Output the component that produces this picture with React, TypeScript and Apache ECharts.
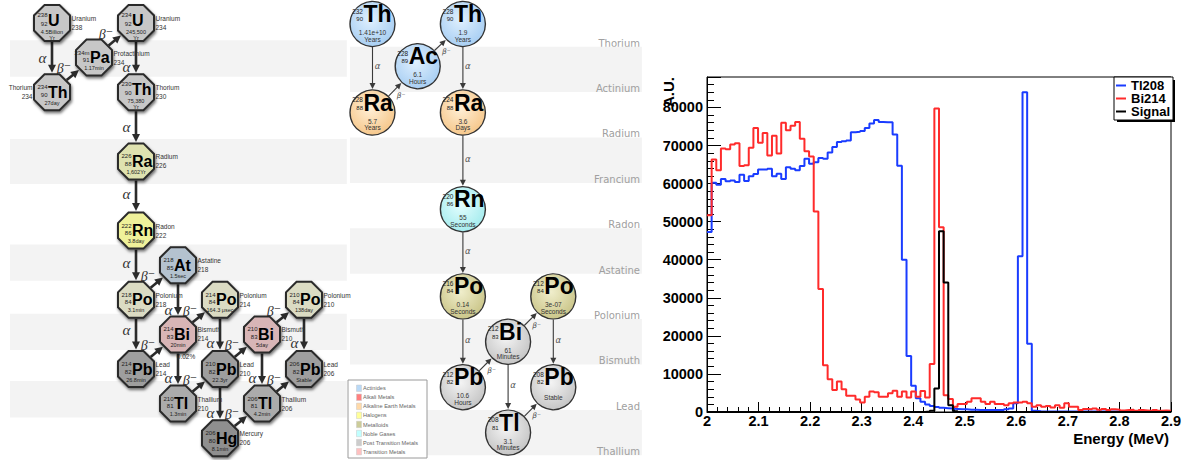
import React, { useEffect, useRef } from "react";
import * as echarts from "echarts";

// ======================= Histogram (right panel) =======================
const ENERGY_MIN = 2.0;
const ENERGY_MAX = 2.9;

const tl208Counts = [
  47300, 60200, 59700, 61200, 60600, 60800, 60400, 62300, 60700, 61900,
  62500, 63700, 63700, 63900, 61900, 62600, 61200, 64300, 63900, 63500,
  64600, 66500, 65200, 65600, 66700, 66500, 68200, 69600, 70900, 71100,
  71300, 73500, 73600, 73800, 74600, 75800, 76700, 76200, 76100, 76100,
  72900, 64700, 40000, 14700, 6900, 3600, 2700, 2000, 1600, 1300,
  1100, 1000, 900, 800, 700, 700, 600, 600, 500, 500,
  500, 500, 500, 500, 700, 900, 2300, 40900, 84000, 17900,
  300, 200, 150, 100, 100, 100, 100, 100, 100, 100,
  100, 100, 100, 100, 100, 100, 100, 100, 100, 100,
  100, 100, 100, 100, 100, 100, 100, 100, 100, 100,
];

const bi214Counts = [
  51700, 66300, 63500, 69200, 69000, 70300, 70600, 64600, 64800, 69400,
  74600, 70700, 73300, 67400, 72600, 67900, 76000, 74000, 75200, 76200,
  71800, 68500, 67100, 52700, 32300, 12300, 8600, 5800, 8000, 6000,
  4300, 4300, 3300, 2500, 4000, 5400, 5200, 4000, 4000, 4900,
  5600, 4000, 5400, 3800, 5400, 4000, 5500, 3800, 12600, 79700,
  48500, 4400, 3400, 1400, 2100, 2100, 2700, 3600, 3600, 2700,
  2100, 2700, 2100, 2100, 1800, 2300, 2500, 2500, 2700, 2300,
  1400, 1800, 1400, 1600, 1200, 1800, 1100, 2300, 1400, 1400,
  500, 800, 700, 900, 600, 800, 500, 700, 600, 400,
  500, 600, 300, 500, 400, 300, 500, 300, 400, 300,
];

const signalCounts = [
  0, 0, 0, 0, 0, 0, 0, 0, 0, 0,
  0, 0, 0, 0, 0, 0, 0, 0, 0, 0,
  0, 0, 0, 0, 0, 0, 0, 0, 0, 0,
  0, 0, 0, 0, 0, 0, 0, 0, 0, 0,
  0, 0, 0, 0, 0, 0, 0, 100, 300, 6200,
  47500, 34000, 1800, 200, 0, 0, 0, 0, 0, 0,
  0, 0, 0, 0, 0, 0, 0, 0, 0, 0,
  0, 0, 0, 0, 0, 0, 0, 0, 0, 0,
  0, 0, 0, 0, 0, 0, 0, 0, 0, 0,
  0, 0, 0, 0, 0, 0, 0, 0, 0, 0,
];

const histNames = ["Tl208", "Bi214", "Signal"];
const histColors = ["#1a3cff", "#ff2b2b", "#000000"];
const histCounts = [tl208Counts, bi214Counts, signalCounts];

// ======================= Diagram 1: U-238 series =======================
const U238_NODES = [
  { sym: "U", mass: "238", z: "92", hl: ["4.5Billion", "Yr"], name: "Uranium", col: 0, row: 0, kind: "heavy", side: "R" },
  { sym: "Pa", mass: "234m", z: "91", hl: ["1.17min"], name: "Protactinium", col: 1, row: 1, kind: "heavy", side: "R" },
  { sym: "U", mass: "234", z: "92", hl: ["245,500", "Yr"], name: "Uranium", col: 2, row: 0, kind: "heavy", side: "R" },
  { sym: "Th", mass: "234", z: "90", hl: ["27day"], name: "Thorium", col: 0, row: 2, kind: "heavy", side: "L" },
  { sym: "Th", mass: "230", z: "90", hl: ["75,380", "Yr"], name: "Thorium", col: 2, row: 2, kind: "heavy", side: "R" },
  { sym: "Ra", mass: "226", z: "88", hl: ["1,602Yr"], name: "Radium", col: 2, row: 4, kind: "ra", side: "R" },
  { sym: "Rn", mass: "222", z: "86", hl: ["3.8day"], name: "Radon", col: 2, row: 6, kind: "rn", side: "R" },
  { sym: "At", mass: "218", z: "85", hl: ["1.5sec"], name: "Astatine", col: 3, row: 7, kind: "at", side: "R" },
  { sym: "Po", mass: "218", z: "84", hl: ["3.1min"], name: "Polonium", col: 2, row: 8, kind: "po", side: "R" },
  { sym: "Po", mass: "214", z: "84", hl: ["164.3 μsec"], name: "Polonium", col: 4, row: 8, kind: "po", side: "R" },
  { sym: "Po", mass: "210", z: "84", hl: ["138day"], name: "Polonium", col: 6, row: 8, kind: "po", side: "R" },
  { sym: "Bi", mass: "214", z: "83", hl: ["20min"], name: "Bismuth", col: 3, row: 9, kind: "bi", side: "R" },
  { sym: "Bi", mass: "210", z: "83", hl: ["5day"], name: "Bismuth", col: 5, row: 9, kind: "bi", side: "R" },
  { sym: "Pb", mass: "214", z: "82", hl: ["26.8min"], name: "Lead", col: 2, row: 10, kind: "pb", side: "R" },
  { sym: "Pb", mass: "210", z: "82", hl: ["22.3yr"], name: "Lead", col: 4, row: 10, kind: "pb", side: "R" },
  { sym: "Pb", mass: "206", z: "82", hl: ["Stable"], name: "Lead", col: 6, row: 10, kind: "pb", side: "R" },
  { sym: "Tl", mass: "210", z: "81", hl: ["1.3min"], name: "Thallium", col: 3, row: 11, kind: "tl", side: "R" },
  { sym: "Tl", mass: "206", z: "81", hl: ["4.2min"], name: "Thallium", col: 5, row: 11, kind: "tl", side: "R" },
  { sym: "Hg", mass: "206", z: "80", hl: ["8.1min"], name: "Mercury", col: 4, row: 12, kind: "hg", side: "R" },
];

const U238_DECAYS = [
  { from: 0, to: 3, mode: "a", shift: 0 },
  { from: 3, to: 1, mode: "b", shift: 0 },
  { from: 1, to: 2, mode: "b", shift: 0 },
  { from: 2, to: 4, mode: "a", shift: 9 },
  { from: 4, to: 5, mode: "a", shift: 0 },
  { from: 5, to: 6, mode: "a", shift: -2 },
  { from: 6, to: 8, mode: "a", shift: -2 },
  { from: 8, to: 7, mode: "b", shift: 0 },
  { from: 8, to: 13, mode: "a", shift: -4 },
  { from: 7, to: 11, mode: "a", shift: 10 },
  { from: 13, to: 11, mode: "b", shift: 0 },
  { from: 11, to: 9, mode: "b", shift: 0 },
  { from: 11, to: 16, mode: "a", shift: 9, note: "0.02%" },
  { from: 9, to: 14, mode: "a", shift: 9 },
  { from: 16, to: 14, mode: "b", shift: 0 },
  { from: 14, to: 12, mode: "b", shift: 0 },
  { from: 14, to: 18, mode: "a", shift: 9 },
  { from: 18, to: 17, mode: "b", shift: 0 },
  { from: 12, to: 17, mode: "a", shift: 9 },
  { from: 12, to: 10, mode: "b", shift: 0 },
  { from: 17, to: 15, mode: "b", shift: 0 },
  { from: 10, to: 15, mode: "a", shift: 9 },
];

// shaded rows of diagram 1, in half-row units
const U238_BANDS = [
  [0.5, 1.55],
  [3.35, 4.65],
  [6.4, 7.45],
  [8.4, 9.45],
  [10.35, 11.4],
];
const U238_BAND_COLS = [-1.0, 7.02];

const U238_COLORS: Record<string, string> = {
  heavy: "#c7c7c7",
  ra: "#dfe2b0",
  rn: "#eff19a",
  at: "#b4c2cf",
  po: "#dbdbc3",
  bi: "#d8b5b6",
  pb: "#9e9e9e",
  tl: "#ababab",
  hg: "#8f8f8f",
};

// ======================= Diagram 2: Th-232 series =======================
const TH232_NODES = [
  { sym: "Th", mass: "232", z: "90", hl: ["1.41e+10", "Years"], col: 0, row: 0, kind: "actinide" },
  { sym: "Ac", mass: "228", z: "89", hl: ["6.1", "Hours"], col: 1, row: 0.93, kind: "actinide" },
  { sym: "Th", mass: "228", z: "90", hl: ["1.9", "Years"], col: 2, row: 0, kind: "actinide" },
  { sym: "Ra", mass: "228", z: "88", hl: ["5.7", "Years"], col: 0, row: 1.95, kind: "alkaline" },
  { sym: "Ra", mass: "224", z: "88", hl: ["3.6", "Days"], col: 2, row: 1.95, kind: "alkaline" },
  { sym: "Rn", mass: "220", z: "86", hl: ["55", "Seconds"], col: 2, row: 4.08, kind: "noble" },
  { sym: "Po", mass: "216", z: "84", hl: ["0.14", "Seconds"], col: 2, row: 6, kind: "metalloid" },
  { sym: "Po", mass: "212", z: "84", hl: ["3e-07", "Seconds"], col: 4, row: 6, kind: "metalloid" },
  { sym: "Bi", mass: "212", z: "83", hl: ["61", "Minutes"], col: 3, row: 7, kind: "post" },
  { sym: "Pb", mass: "212", z: "82", hl: ["10.6", "Hours"], col: 2, row: 8, kind: "post" },
  { sym: "Pb", mass: "208", z: "82", hl: ["Stable"], col: 4, row: 8, kind: "post" },
  { sym: "Tl", mass: "208", z: "81", hl: ["3.1", "Minutes"], col: 3, row: 9, kind: "post" },
];

const TH232_DECAYS = [
  { from: 0, to: 3, mode: "a" },
  { from: 3, to: 1, mode: "b" },
  { from: 1, to: 2, mode: "b" },
  { from: 2, to: 4, mode: "a" },
  { from: 4, to: 5, mode: "a" },
  { from: 5, to: 6, mode: "a" },
  { from: 6, to: 9, mode: "a" },
  { from: 9, to: 8, mode: "b" },
  { from: 8, to: 7, mode: "b" },
  { from: 8, to: 11, mode: "a" },
  { from: 7, to: 10, mode: "a" },
  { from: 11, to: 10, mode: "b" },
];

const TH232_ROWS = ["Thorium", "Actinium", "Radium", "Francium", "Radon", "Astatine", "Polonium", "Bismuth", "Lead", "Thallium"];
const TH232_BAND_COLS = [-0.498, 5.96];
const TH232_LABEL_COL = 5.918;

const TH232_COLORS: Record<string, [string, string]> = {
  actinide: ["#e0f0fe", "#a9cff3"],
  alkaline: ["#fff0d8", "#f6c88c"],
  noble: ["#e4fefe", "#a6ecee"],
  metalloid: ["#f0eecc", "#cbc68a"],
  post: ["#f4f4f4", "#c6c6c6"],
};

const TH232_LEGEND = [
  ["Actinides", "#b9d9f7"],
  ["Alkali Metals", "#ff7f7f"],
  ["Alkaline Earth Metals", "#ffd9a8"],
  ["Halogens", "#ffff99"],
  ["Metalloids", "#cccc99"],
  ["Noble Gases", "#c0ffff"],
  ["Post Transition Metals", "#cccccc"],
  ["Transition Metals", "#ffc0c0"],
];

// ======================= helpers =======================
const SANS = "'Liberation Sans', Arial, Helvetica, sans-serif";
const SERIF = "'Liberation Serif', 'DejaVu Serif', serif";

function txt(x: number, y: number, text: string, font: string, fill = "#222", align = "center", va = "middle") {
  return { type: "text", x, y, style: { text, font, fill, align, verticalAlign: va } };
}

function arrowParts(p1: number[], p2: number[], gap1: number, gap2: number, headLen: number, headHalf: number, color: string, lw: number) {
  const dx = p2[0] - p1[0];
  const dy = p2[1] - p1[1];
  const L = Math.hypot(dx, dy);
  const ux = dx / L;
  const uy = dy / L;
  const sx = p1[0] + ux * gap1;
  const sy = p1[1] + uy * gap1;
  const tx = p2[0] - ux * gap2;
  const ty = p2[1] - uy * gap2;
  const bx = tx - ux * headLen;
  const by = ty - uy * headLen;
  return [
    { type: "line", shape: { x1: sx, y1: sy, x2: bx + ux, y2: by + uy }, style: { stroke: color, lineWidth: lw } },
    {
      type: "polygon",
      shape: { points: [[tx, ty], [bx - uy * headHalf, by + ux * headHalf], [bx + uy * headHalf, by - ux * headHalf]] },
      style: { fill: color },
    },
  ];
}

function renderU238Band(params: any, api: any) {
  const a = api.coord([U238_BAND_COLS[0], api.value(0)]);
  const b = api.coord([U238_BAND_COLS[1], api.value(1)]);
  return { type: "rect", shape: { x: a[0], y: a[1], width: b[0] - a[0], height: b[1] - a[1] }, style: { fill: "#f3f3f3" } };
}

function renderU238Decay(params: any, api: any) {
  const d: any = U238_DECAYS[params.dataIndex];
  const p1 = api.coord([api.value(0), api.value(1)]);
  const p2 = api.coord([api.value(2), api.value(3)]);
  const children: any[] = arrowParts(p1, p2, 19, 19.5, 8, 4, "#2b2b2b", 2.6);
  const mx = (p1[0] + p2[0]) / 2;
  const my = (p1[1] + p2[1]) / 2;
  if (d.mode === "a") {
    children.push(txt(mx - 9.5, my + d.shift, "α", `italic 15px ${SERIF}`, "#333"));
  } else {
    children.push(txt(mx - 9, my - 6, "β⁻", `italic 14px ${SERIF}`, "#333"));
  }
  if (d.note) children.push(txt(mx + 8, my - 12.5, d.note, `6.5px ${SANS}`, "#333"));
  return { type: "group", children };
}

function renderU238Node(params: any, api: any) {
  const n = U238_NODES[params.dataIndex];
  const p = api.coord([api.value(0), api.value(1)]);
  const cx = p[0];
  const cy = p[1];
  const R = 19.5;
  const pts: number[][] = [];
  for (let k = 0; k < 8; k++) {
    const a = Math.PI / 8 + (k * Math.PI) / 4;
    pts.push([cx + R * Math.cos(a), cy + R * Math.sin(a)]);
  }
  const two = n.hl.length === 2;
  const children: any[] = [
    {
      type: "polygon",
      shape: { points: pts },
      style: {
        fill: U238_COLORS[n.kind],
        stroke: "#2a2a2a",
        lineWidth: 2,
        shadowBlur: 3,
        shadowColor: "rgba(0,0,0,0.55)",
        shadowOffsetX: 1,
        shadowOffsetY: 2,
      },
    },
    txt(cx - 4.5, cy + (two ? -8 : -5), n.mass, `6px ${SANS}`, "#222", "right"),
    txt(cx - 4.5, cy + (two ? 0.5 : 2.5), n.z, `6px ${SANS}`, "#222", "right"),
    txt(cx - 4, cy + (two ? -2.5 : 0), n.sym, `bold 16px ${SANS}`, "#000", "left"),
  ];
  n.hl.forEach((h, i) => {
    children.push(txt(cx, cy + (two ? 8.5 + i * 6 : 10.5), h, `5.5px ${SANS}`, "#222"));
  });
  const nx = n.side === "R" ? cx + 19.5 : cx - 19.5;
  const al = n.side === "R" ? "left" : "right";
  children.push(txt(nx, cy - 4.5, n.name, `6.5px ${SANS}`, "#333", al));
  children.push(txt(nx, cy + 4.5, n.mass.replace("m", ""), `6.5px ${SANS}`, "#333", al));
  return { type: "group", children };
}

function renderTh232Row(params: any, api: any) {
  const r = api.value(0);
  const children: any[] = [];
  if (r % 2 === 1) {
    const a = api.coord([TH232_BAND_COLS[0], r - 0.5]);
    const b = api.coord([TH232_BAND_COLS[1], r + 0.5]);
    children.push({ type: "rect", shape: { x: a[0], y: a[1], width: b[0] - a[0], height: b[1] - a[1] }, style: { fill: "#f3f3f3" } });
  }
  const l = api.coord([TH232_LABEL_COL, r + 0.42]);
  children.push(txt(l[0], l[1], TH232_ROWS[params.dataIndex], `10px 'DejaVu Sans', ${SANS}`, "#a0a0a0", "right"));
  return { type: "group", children };
}

function renderTh232Decay(params: any, api: any) {
  const d = TH232_DECAYS[params.dataIndex];
  const p1 = api.coord([api.value(0), api.value(1)]);
  const p2 = api.coord([api.value(2), api.value(3)]);
  const children: any[] = arrowParts(p1, p2, 23, 23.5, 6, 3, "#3a3a3a", 1.1);
  const mx = (p1[0] + p2[0]) / 2;
  const my = (p1[1] + p2[1]) / 2;
  if (d.mode === "a") {
    children.push(txt(mx + 5, my - 2, "α", `italic 8.5px 'DejaVu Sans', ${SANS}`, "#555"));
  } else {
    children.push(txt(mx + 6, my + 6, "β⁻", `italic 7.5px 'DejaVu Sans', ${SANS}`, "#555"));
  }
  return { type: "group", children };
}

function renderTh232Node(params: any, api: any) {
  const n = TH232_NODES[params.dataIndex];
  const p = api.coord([api.value(0), api.value(1)]);
  const cx = p[0];
  const cy = p[1];
  const cols = TH232_COLORS[n.kind];
  const fill = new echarts.graphic.RadialGradient(0.45, 0.4, 0.6, [
    { offset: 0, color: cols[0] },
    { offset: 1, color: cols[1] },
  ]);
  const children: any[] = [
    { type: "circle", shape: { cx, cy, r: 22.5 }, style: { fill, stroke: "#333", lineWidth: 1.4 } },
    txt(cx - 9.5, cy - 13, n.mass, `6.5px ${SANS}`, "#222", "right"),
    txt(cx - 9.5, cy - 5, n.z, `6px ${SANS}`, "#222", "right"),
    txt(cx - 9, cy - 10, n.sym, `bold 23px ${SANS}`, "#000", "left"),
  ];
  const two = n.hl.length === 2;
  n.hl.forEach((h, i) => {
    children.push(txt(cx, cy + (two ? 8.5 + i * 6.5 : 10), h, `6.5px ${SANS}`, "#333"));
  });
  return { type: "group", children };
}

function stepPoints(counts: number[]) {
  const w = (ENERGY_MAX - ENERGY_MIN) / counts.length;
  const pts: number[][] = [];
  counts.forEach((c, i) => {
    pts.push([ENERGY_MIN + i * w, c]);
    pts.push([ENERGY_MIN + (i + 1) * w, c]);
  });
  return pts;
}

function buildOption() {
  const histSeries = histNames.map((name, k) => ({
    type: "line",
    name,
    xAxisIndex: 2,
    yAxisIndex: 2,
    data: stepPoints(histCounts[k]),
    showSymbol: false,
    symbol: "none",
    lineStyle: { color: histColors[k], width: 2 },
    itemStyle: { color: histColors[k] },
    z: 5 + k,
    silent: true,
  }));

  const legendGroup = {
    type: "group",
    x: 348,
    y: 380,
    z: 20,
    children: [
      { type: "rect", z: 20, shape: { x: 0, y: 0, width: 79, height: 78 }, style: { fill: "#fff", stroke: "#9a9a9a", lineWidth: 1 } },
      ...TH232_LEGEND.flatMap(([label, color], i) => [
        { type: "rect", z: 21, shape: { x: 8.5, y: 5 + i * 9.05, width: 5, height: 6.5 }, style: { fill: color, stroke: "#c8c8c8", lineWidth: 0.5 } },
        { type: "text", z: 21, x: 15, y: 8.3 + i * 9.05, style: { text: label, font: `5.6px ${SANS}`, fill: "#666", verticalAlign: "middle" } },
      ]),
    ],
  };

  return {
    animation: false,
    backgroundColor: "#ffffff",
    grid: [
      { left: 0, top: 0, width: 350, height: 460 },
      { left: 340, top: 0, width: 320, height: 460 },
      { left: 707, top: 77, width: 464, height: 335, show: true, borderColor: "#000", borderWidth: 1, backgroundColor: "transparent" },
    ],
    xAxis: [
      { gridIndex: 0, type: "value", min: -52 / 42, max: 298 / 42, show: false },
      { gridIndex: 1, type: "value", min: -32.5 / 45.2, max: 287.5 / 45.2, show: false },
      {
        gridIndex: 2,
        type: "value",
        min: 2,
        max: 2.9,
        interval: 0.1,
        position: "bottom",
        axisLine: { onZero: false, lineStyle: { color: "#000", width: 1 } },
        axisTick: { inside: true, length: 10, lineStyle: { color: "#000", width: 1 } },
        axisLabel: {
          margin: 1,
          color: "#000",
          fontFamily: SANS,
          fontWeight: "bold",
          fontSize: 14.5,
          formatter: (v: number) => String(Number(v.toFixed(2))),
        },
        splitLine: { show: false },
      },
      {
        gridIndex: 2,
        type: "value",
        min: 2,
        max: 2.9,
        interval: 0.02,
        position: "bottom",
        axisLine: { show: false },
        axisTick: { inside: true, length: 5, lineStyle: { color: "#000", width: 1 } },
        axisLabel: { show: false },
        splitLine: { show: false },
      },
    ],
    yAxis: [
      { gridIndex: 0, type: "value", inverse: true, min: -23 / 34.6, max: 437 / 34.6, show: false },
      { gridIndex: 1, type: "value", inverse: true, min: -24 / 45.4, max: 436 / 45.4, show: false },
      {
        gridIndex: 2,
        type: "value",
        min: 0,
        max: 88000,
        interval: 10000,
        position: "left",
        axisLine: { show: true, onZero: false, lineStyle: { color: "#000", width: 1 } },
        axisTick: { show: true, inside: true, length: 14, lineStyle: { color: "#000", width: 1 } },
        axisLabel: {
          margin: 4,
          color: "#000",
          fontFamily: SANS,
          fontWeight: "bold",
          fontSize: 14.5,
          formatter: (v: number) => (v % 10000 === 0 ? String(v) : ""),
        },
        splitLine: { show: false },
      },
      {
        gridIndex: 2,
        type: "value",
        min: 0,
        max: 88000,
        interval: 2000,
        position: "left",
        axisLine: { show: false },
        axisTick: { show: true, inside: true, length: 7, lineStyle: { color: "#000", width: 1 } },
        axisLabel: { show: false },
        splitLine: { show: false },
      },
    ],
    legend: {
      data: histNames,
      orient: "vertical",
      left: 1114,
      top: 77,
      padding: [2, 3, 2, 2],
      itemGap: 0,
      itemWidth: 10,
      itemHeight: 2,
      icon: "rect",
      selectedMode: false,
      backgroundColor: "#fff",
      borderColor: "#000",
      borderWidth: 1,
      textStyle: { fontFamily: SANS, fontWeight: "bold", fontSize: 13, color: "#000" },
      z: 10,
    },
    graphic: [
      { type: "rect", shape: { x: 1117, y: 80, width: 58, height: 42 }, style: { fill: "#000" }, z: 9 },
      {
        type: "text",
        x: 1169,
        y: 431,
        style: { text: "Energy (MeV)", font: `bold 15px ${SANS}`, fill: "#000", align: "right", verticalAlign: "top" },
      },
      {
        type: "text",
        x: 676,
        y: 77,
        rotation: Math.PI / 2,
        style: { text: "A.U.", font: `bold 15px ${SANS}`, fill: "#000", align: "right", verticalAlign: "bottom" },
      },
      legendGroup,
    ],
    series: [
      {
        type: "custom",
        xAxisIndex: 0,
        yAxisIndex: 0,
        silent: true,
        z: 1,
        data: U238_BANDS,
        renderItem: renderU238Band,
      },
      {
        type: "custom",
        xAxisIndex: 0,
        yAxisIndex: 0,
        silent: true,
        z: 2,
        data: U238_DECAYS.map((d) => [U238_NODES[d.from].col, U238_NODES[d.from].row, U238_NODES[d.to].col, U238_NODES[d.to].row]),
        renderItem: renderU238Decay,
      },
      {
        type: "custom",
        xAxisIndex: 0,
        yAxisIndex: 0,
        silent: true,
        z: 3,
        data: U238_NODES.map((n) => [n.col, n.row]),
        renderItem: renderU238Node,
      },
      {
        type: "custom",
        xAxisIndex: 1,
        yAxisIndex: 1,
        silent: true,
        z: 1,
        data: TH232_ROWS.map((_, i) => [i]),
        encode: { y: 0 },
        renderItem: renderTh232Row,
      },
      {
        type: "custom",
        xAxisIndex: 1,
        yAxisIndex: 1,
        silent: true,
        z: 2,
        data: TH232_DECAYS.map((d) => [TH232_NODES[d.from].col, TH232_NODES[d.from].row, TH232_NODES[d.to].col, TH232_NODES[d.to].row]),
        renderItem: renderTh232Decay,
      },
      {
        type: "custom",
        xAxisIndex: 1,
        yAxisIndex: 1,
        silent: true,
        z: 3,
        data: TH232_NODES.map((n) => [n.col, n.row]),
        renderItem: renderTh232Node,
      },
      ...histSeries,
    ],
  };
}

export default function App() {
  const ref = useRef<HTMLDivElement>(null);
  useEffect(() => {
    document.body.style.margin = "0";
    const chart = echarts.init(ref.current as HTMLDivElement, null, { renderer: "svg" });
    chart.setOption(buildOption() as any);
    return () => chart.dispose();
  }, []);
  return <div ref={ref} style={{ width: 1186, height: 460 }} />;
}
